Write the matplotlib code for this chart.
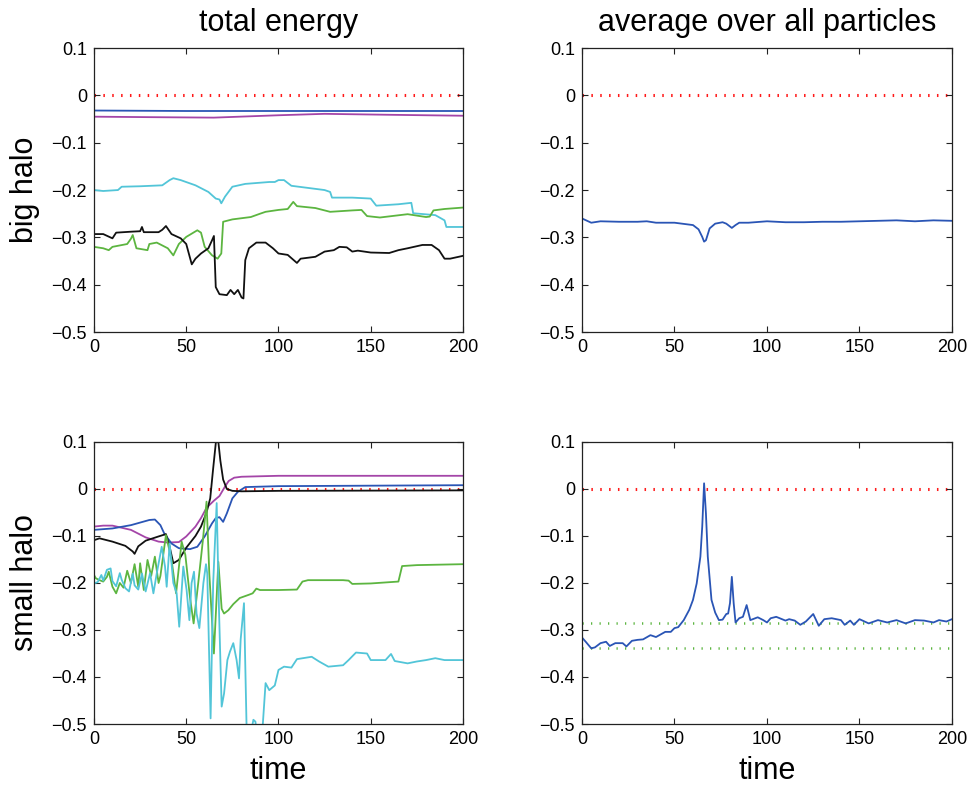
import matplotlib
matplotlib.use("Agg")
import matplotlib.pyplot as plt
import numpy as np

plt.rcParams['font.family'] = ['Liberation Sans', 'DejaVu Sans']

# ---------------- data ----------------
col_titles = ["total energy", "average over all particles"]
row_labels = ["big halo", "small halo"]
xlabel = "time"
xticks = [0, 50, 100, 150, 200]
xtick_labels = ["0", "50", "100", "150", "200"]
yticks = [0.1, 0.0, -0.1, -0.2, -0.3, -0.4, -0.5]
ytick_labels = ["0.1", "0", "\u22120.1", "\u22120.2", "\u22120.3", "\u22120.4", "\u22120.5"]

# top-left (big halo, total energy)
tl_blue_t = [0, 50, 100, 150, 200]
tl_blue_v = [-0.032, -0.033, -0.033, -0.033, -0.033]
tl_mag_t = [0, 30, 65, 100, 125, 160, 200]
tl_mag_v = [-0.045, -0.046, -0.047, -0.042, -0.039, -0.041, -0.043]
tl_cyan_t = [0, 5, 13, 15, 25, 37, 41, 43, 47, 55, 62, 66, 68, 69, 71, 75, 82, 95, 98, 100,
             103, 107, 115, 125, 128, 129, 140, 150, 153, 165, 172, 173, 185, 190, 191, 200]
tl_cyan_v = [-0.200, -0.202, -0.200, -0.193, -0.192, -0.190, -0.179, -0.175, -0.179, -0.190,
             -0.204, -0.218, -0.220, -0.228, -0.214, -0.193, -0.187, -0.183, -0.183, -0.179,
             -0.179, -0.191, -0.195, -0.200, -0.204, -0.216, -0.216, -0.218, -0.233, -0.230,
             -0.227, -0.249, -0.253, -0.264, -0.278, -0.278]
tl_green_t = [0, 5, 8, 10, 18, 20, 21, 23, 29, 30, 34, 40, 43, 46, 50, 56, 58, 60, 64, 67, 69,
              70, 75, 85, 90, 93, 100, 105, 108, 110, 120, 128, 140, 145, 148, 155, 170, 180,
              182, 184, 190, 200]
tl_green_v = [-0.320, -0.323, -0.327, -0.320, -0.314, -0.303, -0.295, -0.323, -0.327, -0.314,
              -0.311, -0.323, -0.338, -0.314, -0.299, -0.285, -0.290, -0.320, -0.338, -0.345,
              -0.334, -0.267, -0.262, -0.257, -0.250, -0.246, -0.242, -0.240, -0.225, -0.234,
              -0.238, -0.246, -0.243, -0.242, -0.255, -0.258, -0.251, -0.257, -0.256, -0.243,
              -0.240, -0.237]
tl_black_t = [0, 5, 10, 12, 20, 25, 26, 27, 35, 37, 39, 42, 47, 50, 53, 55, 58, 62, 64, 65,
              66, 68, 72, 74, 76, 78, 80, 81, 82, 84, 88, 93, 97, 100, 105, 110, 112, 120, 125,
              130, 133, 137, 140, 143, 150, 160, 165, 170, 178, 183, 187, 190, 193, 200]
tl_black_v = [-0.293, -0.293, -0.302, -0.290, -0.288, -0.287, -0.278, -0.289, -0.289, -0.284,
              -0.276, -0.293, -0.302, -0.314, -0.357, -0.345, -0.334, -0.323, -0.306, -0.297,
              -0.405, -0.420, -0.422, -0.411, -0.420, -0.411, -0.427, -0.429, -0.348, -0.323,
              -0.311, -0.311, -0.323, -0.334, -0.337, -0.354, -0.345, -0.341, -0.330, -0.327,
              -0.320, -0.321, -0.330, -0.328, -0.332, -0.333, -0.327, -0.323, -0.316, -0.316,
              -0.327, -0.345, -0.345, -0.339]

# top-right (big halo, average)
tr_blue_t = [0, 5, 10, 20, 30, 35, 40, 50, 60, 63, 65, 66, 67, 69, 72, 76, 78, 81, 83, 85,
             90, 100, 110, 120, 130, 140, 150, 160, 170, 180, 190, 200]
tr_blue_v = [-0.260, -0.269, -0.266, -0.267, -0.267, -0.266, -0.269, -0.269, -0.274, -0.283,
             -0.299, -0.309, -0.306, -0.281, -0.271, -0.268, -0.271, -0.280, -0.274, -0.269,
             -0.269, -0.266, -0.268, -0.268, -0.267, -0.267, -0.266, -0.265, -0.264, -0.266,
             -0.264, -0.265]

# bottom-left (small halo, total energy)
bl_mag_t = [0, 5, 10, 20, 28, 35, 40, 46, 50, 55, 58, 61, 65, 68, 71, 73, 76, 80, 100, 200]
bl_mag_v = [-0.080, -0.078, -0.078, -0.087, -0.103, -0.112, -0.114, -0.113, -0.101, -0.080,
            -0.062, -0.040, -0.025, -0.015, 0.005, 0.017, 0.024, 0.026, 0.028, 0.028]
bl_blue_t = [0, 10, 20, 30, 33, 36, 38, 42, 46, 52, 56, 60, 64, 66, 68, 70, 72, 75, 78, 82,
             100, 200]
bl_blue_v = [-0.087, -0.084, -0.077, -0.066, -0.065, -0.077, -0.094, -0.116, -0.126, -0.128,
             -0.123, -0.101, -0.073, -0.062, -0.060, -0.070, -0.052, -0.020, -0.006, 0.004,
             0.006, 0.008]
bl_black_t = [0, 3, 10, 17, 21, 22, 24, 28, 35, 39, 41, 43, 46, 50, 55, 58, 61, 63, 64.5, 66,
              67, 68.5, 70, 72, 75, 80, 100, 200]
bl_black_v = [-0.109, -0.105, -0.112, -0.121, -0.133, -0.138, -0.122, -0.110, -0.101, -0.096,
              -0.123, -0.158, -0.151, -0.125, -0.100, -0.080, -0.050, -0.020, 0.040, 0.097,
              0.115, 0.060, 0.020, 0.000, -0.004, -0.005, -0.004, -0.003]
bl_green_t = [0, 1, 3, 5, 7, 8, 10, 12, 14, 16, 18, 20, 22, 24, 25, 27, 29, 31, 33, 35, 36,
              39, 42, 44.5, 47.5, 49.5, 52, 54, 56.5, 59, 61, 62.5, 65, 67.4, 69.2, 70.5, 72.8,
              75.5, 79, 84, 86, 88, 90, 100, 110, 113, 116, 135, 138, 140, 150, 165, 167, 175,
              200]
bl_green_v = [-0.183, -0.190, -0.194, -0.197, -0.187, -0.176, -0.208, -0.222, -0.200, -0.210,
              -0.174, -0.200, -0.160, -0.208, -0.158, -0.215, -0.151, -0.185, -0.144, -0.200,
              -0.185, -0.098, -0.150, -0.222, -0.112, -0.140, -0.230, -0.286, -0.200, -0.110,
              -0.027, -0.180, -0.350, -0.155, -0.255, -0.265, -0.258, -0.245, -0.232, -0.225,
              -0.222, -0.212, -0.215, -0.215, -0.214, -0.197, -0.194, -0.194, -0.195, -0.202,
              -0.201, -0.197, -0.164, -0.162, -0.160]
bl_cyan_t = [0, 2, 4, 5, 7, 9, 10, 12, 14, 15, 17, 19, 21, 22, 24, 26, 28, 30.4, 32.2, 34,
             36.7, 38.5, 39.4, 41, 43, 44.8, 46.2, 48.4, 50.2, 51.7, 52.9, 54.2, 55.6, 57.1,
             59.3, 60.7, 61.4, 63.2, 64.6, 66.5, 67.7, 69.2, 70.5, 72.3, 73.7, 75.5, 77.3,
             78.6, 79.5, 81.3, 82.7, 84.5, 86.4, 87.5, 88.2, 91, 93, 95, 98, 100, 103, 107,
             110, 118, 122, 127, 135, 138, 142, 148, 150, 158, 161, 163, 170, 175, 180, 185,
             190, 200]
bl_cyan_v = [-0.201, -0.198, -0.183, -0.195, -0.172, -0.169, -0.196, -0.207, -0.179, -0.193,
             -0.211, -0.218, -0.180, -0.205, -0.214, -0.180, -0.218, -0.179, -0.222, -0.180,
             -0.123, -0.165, -0.208, -0.116, -0.200, -0.222, -0.293, -0.165, -0.215, -0.279,
             -0.200, -0.176, -0.265, -0.296, -0.200, -0.160, -0.180, -0.488, -0.200, -0.030,
             -0.250, -0.463, -0.435, -0.364, -0.346, -0.328, -0.364, -0.403, -0.320, -0.243,
             -0.506, -0.530, -0.491, -0.495, -0.520, -0.530, -0.413, -0.428, -0.418, -0.385,
             -0.378, -0.380, -0.362, -0.357, -0.367, -0.378, -0.375, -0.364, -0.348, -0.350,
             -0.364, -0.364, -0.351, -0.366, -0.371, -0.367, -0.364, -0.360, -0.364, -0.364]

# bottom-right (small halo, average)
br_blue_t = [0, 2, 5, 7, 10, 13, 15, 18, 22, 24, 27, 30, 33, 37, 40, 45, 48, 50, 52, 55, 58,
             60, 62, 64, 65, 66, 67, 68, 70, 72, 74, 76, 78, 79, 80, 81, 82, 83, 85, 87, 89,
             91, 95, 98, 100, 102, 105, 110, 112, 115, 118, 121, 125, 128, 131, 135, 140, 142,
             145, 147, 150, 155, 160, 165, 170, 175, 180, 185, 190, 193, 197, 200]
br_blue_v = [-0.316, -0.325, -0.339, -0.337, -0.328, -0.325, -0.334, -0.328, -0.328, -0.335,
             -0.323, -0.321, -0.320, -0.311, -0.315, -0.304, -0.304, -0.296, -0.294, -0.279,
             -0.257, -0.236, -0.201, -0.144, -0.080, 0.012, -0.052, -0.144, -0.236, -0.263,
             -0.279, -0.278, -0.266, -0.265, -0.243, -0.187, -0.243, -0.284, -0.275, -0.272,
             -0.247, -0.279, -0.273, -0.279, -0.284, -0.275, -0.272, -0.280, -0.277, -0.280,
             -0.289, -0.282, -0.266, -0.291, -0.277, -0.275, -0.279, -0.289, -0.280, -0.289,
             -0.277, -0.286, -0.279, -0.284, -0.279, -0.286, -0.279, -0.280, -0.284, -0.279,
             -0.282, -0.277]
br_green_levels = [-0.286, -0.339]
zero_level = 0.0

# ---------------- style ----------------
C_BLUE = "#2a55b5"
C_MAG = "#a445a8"
C_CYAN = "#52c5d8"
C_GREEN = "#5cb540"
C_BLACK = "#111111"
C_RED = "#ff1a1a"
LW = 1.3

fig = plt.figure(figsize=(9.7, 7.85), dpi=100)
positions = {
    (0, 0): [0.0969, 0.577, 0.3804, 0.3618],
    (0, 1): [0.600, 0.577, 0.3814, 0.3618],
    (1, 0): [0.0969, 0.0777, 0.3804, 0.3593],
    (1, 1): [0.600, 0.0777, 0.3814, 0.3593],
}
axes = {}
for key, pos in positions.items():
    ax = fig.add_axes(pos)
    axes[key] = ax
    ax.set_xlim(0, 200)
    ax.set_ylim(-0.5, 0.1)
    ax.set_xticks(xticks)
    ax.set_xticklabels(xtick_labels)
    ax.set_yticks(yticks)
    ax.set_yticklabels(ytick_labels)
    ax.tick_params(direction="in", top=True, right=True, length=4, width=0.8,
                   labelsize=13, pad=5, colors="#222222", labelcolor="black")
    for sp in ax.spines.values():
        sp.set_linewidth(0.9)
        sp.set_color("#222222")
    ax.axhline(zero_level, color=C_RED, lw=2.2, linestyle=(0, (0.5, 2.4)), zorder=1)

ax = axes[(0, 0)]
ax.plot(tl_blue_t, tl_blue_v, color=C_BLUE, lw=LW)
ax.plot(tl_mag_t, tl_mag_v, color=C_MAG, lw=LW)
ax.plot(tl_cyan_t, tl_cyan_v, color=C_CYAN, lw=LW)
ax.plot(tl_green_t, tl_green_v, color=C_GREEN, lw=LW)
ax.plot(tl_black_t, tl_black_v, color=C_BLACK, lw=LW)

ax = axes[(0, 1)]
ax.plot(tr_blue_t, tr_blue_v, color=C_BLUE, lw=LW)

ax = axes[(1, 0)]
ax.plot(bl_mag_t, bl_mag_v, color=C_MAG, lw=LW)
ax.plot(bl_blue_t, bl_blue_v, color=C_BLUE, lw=LW)
ax.plot(bl_black_t, bl_black_v, color=C_BLACK, lw=LW)
ax.plot(bl_green_t, bl_green_v, color=C_GREEN, lw=LW)
ax.plot(bl_cyan_t, bl_cyan_v, color=C_CYAN, lw=LW)

ax = axes[(1, 1)]
for lev in br_green_levels:
    ax.axhline(lev, color=C_GREEN, lw=1.8, linestyle=(0, (0.5, 2.9)), zorder=1)
ax.plot(br_blue_t, br_blue_v, color=C_BLUE, lw=LW)

axes[(0, 0)].set_title(col_titles[0], fontsize=22, pad=12)
axes[(0, 1)].set_title(col_titles[1], fontsize=22, pad=12)
axes[(0, 0)].set_ylabel(row_labels[0], fontsize=22, labelpad=8)
axes[(1, 0)].set_ylabel(row_labels[1], fontsize=22, labelpad=8)
axes[(1, 0)].set_xlabel(xlabel, fontsize=22, labelpad=6)
axes[(1, 1)].set_xlabel(xlabel, fontsize=22, labelpad=6)

fig.savefig("out.png", dpi=100)
